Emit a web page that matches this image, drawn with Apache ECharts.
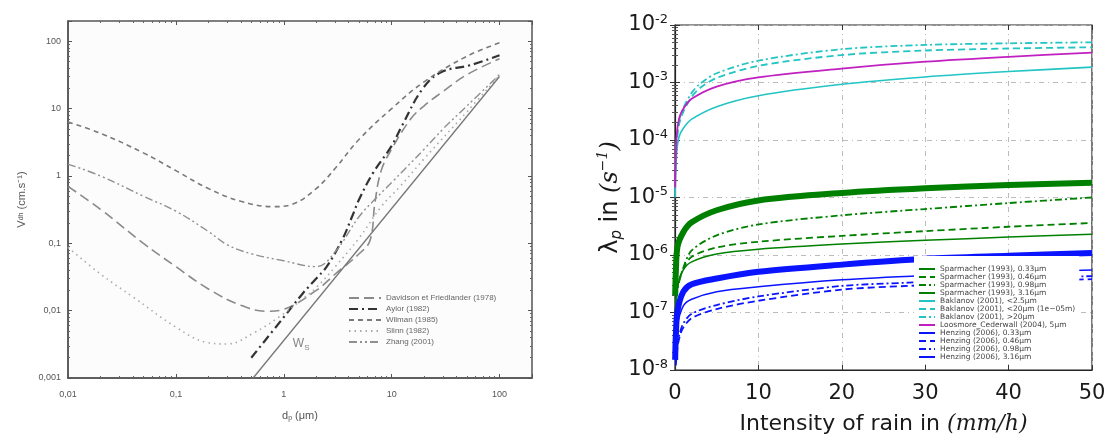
<!DOCTYPE html>
<html><head><meta charset="utf-8">
<script src="https://cdn.jsdelivr.net/npm/echarts@6/dist/echarts.min.js"></script>
<style>html,body{margin:0;padding:0;background:#fff}#c{width:1109px;height:440px}</style>
</head><body><div id="c"></div>
<script>
// ---------- LEFT PANEL DATA (d_p in µm, V in cm/s) ----------
const leftXTickLabels = {'-2':'0,01','-1':'0,1','0':'1','1':'10','2':'100'};
const leftYTickLabels = {'-3':'0,001','-2':'0,01','-1':'0,1','0':'1','1':'10','2':'100'};
const leftNames = ['Davidson et Friedlander (1978)','Aylor (1982)','Wilman (1985)','Slinn (1982)','Zhang (2001)'];
const davidson = [[0.01,0.7],[0.02,0.32],[0.05,0.1],[0.1,0.045],[0.2,0.021],[0.4,0.012],[0.7,0.0098],[1,0.0105],[2,0.02],[3,0.035],[5,0.07],[6.3,0.11],[7,0.4],[8,1.2],[10,2.5],[15,7],[20,11],[30,18],[50,32],[100,55]];
const aylor = [[0.5,0.002],[1,0.008],[1.5,0.018],[2,0.03],[2.5,0.045],[3.5,0.115],[4.3,0.25],[5,0.45],[6.7,1.1],[10,2.8],[12.5,5.6],[19.5,20],[29,35],[53,44],[100,62]];
const wilman = [[0.01,6.3],[0.02,4.3],[0.05,2.2],[0.1,1.2],[0.2,0.65],[0.4,0.42],[0.8,0.35],[1.2,0.38],[2,0.65],[3,1.3],[5,3.5],[10,10],[20,25],[50,60],[100,95]];
const slinn = [[0.01,0.087],[0.02,0.035],[0.04,0.016],[0.1,0.0057],[0.19,0.0034],[0.3,0.0032],[0.53,0.0047],[0.9,0.008],[1.5,0.015],[2,0.022],[3,0.045],[5,0.12],[8,0.35],[12,0.7],[20,1.8],[50,9],[100,31]];
const zhang = [[0.01,1.5],[0.02,1.0],[0.05,0.5],[0.1,0.3],[0.2,0.15],[0.3,0.095],[0.5,0.07],[1,0.055],[2,0.045],[3,0.075],[5,0.25],[7,0.45],[10,0.8],[20,2.5],[30,5],[50,11],[100,32]];
const ws = [[0.52,0.001],[100,30]];
const wsLabelAt = [[1.45,0.0032]];

// ---------- RIGHT PANEL DATA (rain intensity mm/h, lambda s^-1) ----------
const rightYTickLabels = {'-8':'-8','-7':'-7','-6':'-6','-5':'-5','-4':'-4','-3':'-3','-2':'-2'};
const rightNames = ['Sparmacher (1993), 0.33μm','Sparmacher (1993), 0.46μm','Sparmacher (1993), 0.98μm','Sparmacher (1993), 3.16μm','Baklanov (2001), <2.5μm','Baklanov (2001), <20μm (1e−05m)','Baklanov (2001), >20μm','Loosmore_Cederwall (2004), 5μm','Henzing (2006), 0.33μm','Henzing (2006), 0.46μm','Henzing (2006), 0.98μm','Henzing (2006), 3.16μm'];
const spar033 = [[0.02,5e-8],[0.1,1.3e-7],[0.3,2.8e-7],[1,5.5e-7],[2,7.6e-7],[5,1.04e-6],[10,1.26e-6],[20,1.55e-6],[30,1.8e-6],[40,2.05e-6],[50,2.3e-6]];
const spar046 = [[0.05,1e-7],[0.3,2.8e-7],[1,5.8e-7],[2,9.3e-7],[5,1.35e-6],[10,1.7e-6],[20,2.15e-6],[30,2.6e-6],[40,3.1e-6],[50,3.6e-6]];
const spar098 = [[0.05,1e-7],[0.3,2.5e-7],[1,6e-7],[2,1.2e-6],[5,2.2e-6],[10,3.4e-6],[20,4.9e-6],[30,6.3e-6],[40,8e-6],[50,1e-5]];
const spar316 = [[0.02,2e-7],[0.1,5e-7],[0.3,1.4e-6],[1,2.5e-6],[2,3.7e-6],[5,6e-6],[10,8.9e-6],[20,1.2e-5],[30,1.45e-5],[40,1.65e-5],[50,1.8e-5]];
const bak25 = [[0.02,1e-5],[0.05,2e-5],[0.2,6e-5],[0.5,1.15e-4],[1,1.6e-4],[2,2.3e-4],[5,3.8e-4],[10,5.9e-4],[20,9.3e-4],[30,1.25e-3],[40,1.55e-3],[50,1.85e-3]];
const bak20 = [[0.05,3e-5],[0.2,9e-5],[0.5,1.9e-4],[1,3.1e-4],[2,5.6e-4],[3,8e-4],[5,1.2e-3],[10,1.95e-3],[20,3.0e-3],[30,3.6e-3],[40,3.9e-3],[50,4.1e-3]];
const bakGt20 = [[0.05,3.5e-5],[0.2,1e-4],[0.5,2.2e-4],[1,3.6e-4],[2,6.6e-4],[3,9.5e-4],[5,1.45e-3],[10,2.4e-3],[20,3.8e-3],[30,4.5e-3],[40,4.8e-3],[50,5.0e-3]];
const loosmore = [[0.02,1.5e-5],[0.05,3e-5],[0.2,1.2e-4],[0.5,2.4e-4],[1,3.5e-4],[2,5.2e-4],[5,8.5e-4],[10,1.23e-3],[20,1.75e-3],[30,2.3e-3],[40,2.8e-3],[50,3.3e-3]];
const hen033 = [[0.05,1.5e-8],[0.3,5.9e-8],[1,1.3e-7],[2,1.7e-7],[5,2.3e-7],[10,2.8e-7],[20,3.7e-7],[30,4.4e-7],[40,5e-7],[50,5.5e-7]];
const hen046 = [[0.1,1.2e-8],[0.3,2.5e-8],[0.6,4e-8],[1,5.5e-8],[2,8e-8],[5,1.15e-7],[10,1.6e-7],[20,2.5e-7],[28,2.9e-7],[40,3.4e-7],[50,3.8e-7]];
const hen098 = [[0.1,1.4e-8],[0.3,3e-8],[0.6,4.5e-8],[1,6.5e-8],[2,9.5e-8],[5,1.35e-7],[10,1.9e-7],[20,2.9e-7],[28,3.3e-7],[40,3.9e-7],[50,4.3e-7]];
const hen316 = [[0.02,1.5e-8],[0.1,4e-8],[0.3,1.07e-7],[1,2.3e-7],[2,3.1e-7],[5,3.9e-7],[10,5.1e-7],[20,6.8e-7],[30,8.6e-7],[40,9.7e-7],[50,1.08e-6]];

// ---------- CHART ----------
const chart = echarts.init(document.getElementById('c'), null, {renderer:'canvas'});
const lg = (v)=>Math.log10(v);
const isPow = (v)=>Math.abs(lg(v)-Math.round(lg(v)))<1e-6;
const leftFont = 'Liberation Sans, Arial, sans-serif';
const rFont = 'DejaVu Sans, sans-serif';

function lser(name, data, color, width, dash){
  return {type:'line', name, data, xAxisIndex:0, yAxisIndex:0, symbol:'none', smooth:0.4,
    lineStyle:{color, width, type:dash}, itemStyle:{color}, z:3};
}
function rser(name, data, color, width, dash){
  return {type:'line', name, data, xAxisIndex:2, yAxisIndex:2, symbol:'none', smooth:0.3,
    lineStyle:{color, width, type:dash}, itemStyle:{color}, z:3};
}
const G='#008000', C='#22c4c4', M='#c020c0', B='#0a14ff';
const DASH=[7,4], DASHDOT=[7,3,2,3];

const option = {
  backgroundColor:'#fff',
  animation:false,
  grid:[
    {left:68, top:21, width:464, height:357, show:true, borderColor:'#555', borderWidth:1.5, backgroundColor:'#fcfcfc'},
    {left:675, top:25, width:417, height:350, show:true, borderColor:'#222', borderWidth:1.2, backgroundColor:'#fff'}
  ],
  xAxis:[
    {type:'log', gridIndex:0, min:0.01, max:200, logBase:10,
     axisLine:{lineStyle:{color:'#555', width:1.5}},
     axisTick:{inside:true, length:4, lineStyle:{color:'#555'}},
     minorTick:{show:true, splitNumber:9, length:2, lineStyle:{color:'#666'}},
     splitLine:{show:false},
     axisLabel:{color:'#555', fontSize:9, fontFamily:leftFont, margin:12, formatter:v=>isPow(v)?(leftXTickLabels[String(Math.round(lg(v)))]||''):''},
     name:'d{s|p} (μm)', nameLocation:'middle', nameGap:31,
     nameTextStyle:{color:'#555', fontSize:11, fontFamily:leftFont, rich:{s:{fontSize:7, verticalAlign:'bottom', color:'#555', padding:[6,0,0,0]}}}},
    {type:'log', gridIndex:0, position:'top', min:0.01, max:200,
     axisLine:{show:false}, axisTick:{inside:true, length:4, lineStyle:{color:'#555'}},
     minorTick:{show:true, splitNumber:9, length:2, lineStyle:{color:'#666'}},
     axisLabel:{show:false}, splitLine:{show:false}},
    {type:'value', gridIndex:1, min:0, max:50, interval:10,
     axisLine:{lineStyle:{color:'#222', width:1.2}},
     axisTick:{inside:true, length:5, lineStyle:{color:'#333'}},
     splitLine:{show:true, lineStyle:{color:'#bbb', type:[5,4,1,4], width:1}},
     axisLabel:{color:'#1a1a1a', fontSize:21, fontFamily:rFont, margin:13},
     name:'Intensity of rain in {m|(mm/h)}', nameLocation:'middle', nameGap:43,
     nameTextStyle:{color:'#1a1a1a', fontSize:22, fontFamily:rFont,
       rich:{m:{fontSize:22, fontStyle:'italic', fontFamily:'DejaVu Serif, serif', color:'#1a1a1a'}}}},
    {type:'value', gridIndex:1, position:'top', min:0, max:50, interval:10,
     axisLine:{show:false}, axisTick:{inside:true, length:5, lineStyle:{color:'#333'}},
     axisLabel:{show:false}, splitLine:{show:false}}
  ],
  yAxis:[
    {type:'log', gridIndex:0, min:0.001, max:200,
     axisLine:{lineStyle:{color:'#555', width:1.5}},
     axisTick:{inside:true, length:4, lineStyle:{color:'#555'}},
     minorTick:{show:true, splitNumber:9, length:2, lineStyle:{color:'#666'}},
     splitLine:{show:false},
     axisLabel:{color:'#555', fontSize:9, fontFamily:leftFont, margin:7, formatter:v=>isPow(v)?(leftYTickLabels[String(Math.round(lg(v)))]||''):''},
     name:'V{s|dh} (cm.s⁻¹)', nameLocation:'middle', nameGap:41, nameRotate:90,
     nameTextStyle:{color:'#555', fontSize:11, fontFamily:leftFont, rich:{s:{fontSize:7, color:'#555'}}}},
    {type:'log', gridIndex:0, position:'right', min:0.001, max:200,
     axisLine:{show:false}, axisTick:{inside:true, length:4, lineStyle:{color:'#555'}},
     minorTick:{show:true, splitNumber:9, length:2, lineStyle:{color:'#666'}},
     axisLabel:{show:false}, splitLine:{show:false}},
    {type:'log', gridIndex:1, min:1e-8, max:1e-2,
     axisLine:{lineStyle:{color:'#222', width:1.2}},
     axisTick:{inside:true, length:5, lineStyle:{color:'#333'}},
     minorTick:{show:true, splitNumber:9, length:3, lineStyle:{color:'#555'}},
     splitLine:{show:true, lineStyle:{color:'#bbb', type:[5,4,1,4], width:1}},
     axisLabel:{margin:7, formatter:v=>{const e=String(Math.round(lg(v))); return '{b|10}{s|'+(rightYTickLabels[e]||e)+'}';},
       rich:{b:{fontSize:21, fontFamily:rFont, color:'#1a1a1a', lineHeight:24},
             s:{fontSize:13, fontFamily:rFont, color:'#1a1a1a', verticalAlign:'top', lineHeight:24, padding:[0,0,12,0]}}},
     name:'λ{s|p} in {m|(s}{u|−1}{m|)}', nameLocation:'middle', nameGap:40, nameRotate:90,
     nameTextStyle:{color:'#1a1a1a', fontSize:24, fontFamily:rFont,
       rich:{s:{fontSize:15, fontStyle:'italic', color:'#1a1a1a', padding:[12,0,0,0]},
             m:{fontSize:24, fontStyle:'italic', fontFamily:'DejaVu Serif, serif', color:'#1a1a1a'},
             u:{fontSize:14, fontStyle:'italic', fontFamily:'DejaVu Serif, serif', color:'#1a1a1a', padding:[0,0,16,0]}}}},
    {type:'log', gridIndex:1, position:'right', min:1e-8, max:1e-2,
     axisLine:{show:false}, axisTick:{inside:true, length:5, lineStyle:{color:'#333'}},
     minorTick:{show:true, splitNumber:9, length:3, lineStyle:{color:'#555'}},
     axisLabel:{show:false}, splitLine:{show:false}}
  ],
  legend:[
    {data:leftNames, left:343, top:289, orient:'vertical', itemWidth:32, itemHeight:8, itemGap:3,
     itemStyle:{opacity:0},
     textStyle:{fontSize:8, color:'#666', fontFamily:leftFont}, backgroundColor:'rgba(0,0,0,0)'},
    {data:rightNames, left:914, top:256, orient:'vertical', itemWidth:16, itemHeight:6, itemGap:0,
     itemStyle:{opacity:0},
     padding:[9,4,3,4], backgroundColor:'#fff',
     textStyle:{fontSize:7.5, lineHeight:7.4, color:'#444', fontFamily:rFont}}
  ],
  series:[
    lser(leftNames[0], davidson, '#8a8a8a', 1.6, [10,5]),
    lser(leftNames[1], aylor, '#333', 2.2, [9,4,2,4]),
    lser(leftNames[2], wilman, '#7a7a7a', 1.6, [5,4]),
    lser(leftNames[3], slinn, '#aaa', 1.6, [1.5,4]),
    lser(leftNames[4], zhang, '#8f8f8f', 1.4, [8,3,2,3,2,3]),
    {type:'line', name:'Ws', data:ws, xAxisIndex:0, yAxisIndex:0, symbol:'none',
     lineStyle:{color:'#777', width:1.3}, z:3},
    {type:'scatter', name:'Ws label', data:wsLabelAt, xAxisIndex:0, yAxisIndex:0, symbolSize:0, z:4, silent:true,
     label:{show:true, position:'inside', formatter:'W{s|S}', color:'#666', fontSize:12, fontFamily:leftFont,
       rich:{s:{fontSize:8, color:'#666', padding:[8,0,0,0]}}}},
    rser(rightNames[0], spar033, G, 1.5, 'solid'),
    rser(rightNames[1], spar046, G, 1.8, DASH),
    rser(rightNames[2], spar098, G, 1.8, DASHDOT),
    rser(rightNames[3], spar316, G, 6, 'solid'),
    rser(rightNames[4], bak25, C, 1.6, 'solid'),
    rser(rightNames[5], bak20, C, 1.8, DASH),
    rser(rightNames[6], bakGt20, C, 1.8, DASHDOT),
    rser(rightNames[7], loosmore, M, 1.8, 'solid'),
    rser(rightNames[8], hen033, B, 1.5, 'solid'),
    rser(rightNames[9], hen046, B, 1.8, DASH),
    rser(rightNames[10], hen098, B, 1.8, DASHDOT),
    rser(rightNames[11], hen316, B, 6, 'solid')
  ]
};
chart.setOption(option);
</script></body></html>
